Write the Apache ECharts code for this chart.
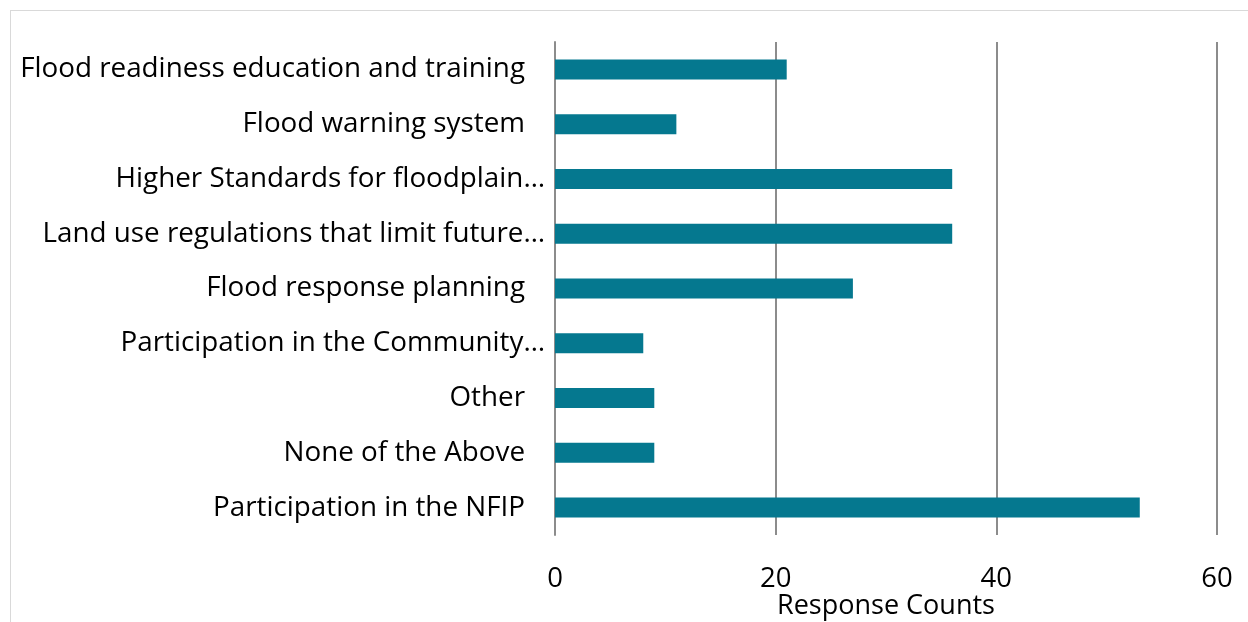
<!DOCTYPE html>
<html>
<head>
<meta charset="utf-8">
<script src="https://cdn.jsdelivr.net/npm/echarts@6/dist/echarts.min.js"></script>
<style>
  html, body { margin: 0; padding: 0; background: #fff; overflow: hidden; }
  #frame {
    position: absolute; left: 10px; top: 10px; width: 1260px; height: 640px;
    border: 1px solid #d9d9d9; box-sizing: border-box;
  }
  #bar-chart { position: absolute; left: 0; top: 0; width: 1248px; height: 622px; }
</style>
</head>
<body>
<div id="frame"></div>
<div id="bar-chart"></div>
<script>
// categories listed bottom to top (yAxis category order)
var categories = [
  'Participation in the NFIP',
  'None of the Above',
  'Other',
  'Participation in the Community\u2026',
  'Flood response planning',
  'Land use regulations that limit future\u2026',
  'Higher Standards for floodplain\u2026',
  'Flood warning system',
  'Flood readiness education and training'
]
var counts = [53, 9, 9, 8, 27, 36, 36, 11, 21]
var xTicks = [0, 20, 40, 60]

var chart = echarts.init(document.getElementById('bar-chart'))
var font = '"Open Sans", sans-serif'

chart.setOption({
  animation: false,
  grid: {
    left: 555,
    right: 31,
    top: 42,
    bottom: 87,
    containLabel: false,
    outerBoundsMode: 'none'
  },
  xAxis: {
    type: 'value',
    min: xTicks[0],
    max: xTicks[xTicks.length - 1],
    interval: 20,
    name: 'Response Counts',
    nameLocation: 'middle',
    nameGap: 58,
    nameMoveOverlap: false,
    nameTextStyle: { fontFamily: font, fontSize: 27, color: '#000' },
    axisLine: { show: false },
    axisTick: { show: false },
    axisLabel: { fontFamily: font, fontSize: 27.5, color: '#000', margin: 30 },
    splitLine: { show: true, lineStyle: { color: '#8c8c8c', width: 2 } }
  },
  yAxis: {
    type: 'category',
    data: categories,
    axisLine: { show: true, lineStyle: { color: '#8c8c8c', width: 2 } },
    axisTick: { show: false },
    axisLabel: {
      margin: 10,
      formatter: function (v) {
        return v.indexOf('\u2026') >= 0 ? '{e|' + v + '}' : '{n|' + v + '}'
      },
      rich: {
        e: { fontFamily: font, fontSize: 27.8, color: '#000' },
        n: { fontFamily: font, fontSize: 27.8, color: '#000', padding: [0, 20, 0, 0] }
      }
    }
  },
  series: [{
    type: 'bar',
    data: counts,
    barWidth: 20,
    itemStyle: { color: '#05788f' }
  }]
})
</script>
</body>
</html>
